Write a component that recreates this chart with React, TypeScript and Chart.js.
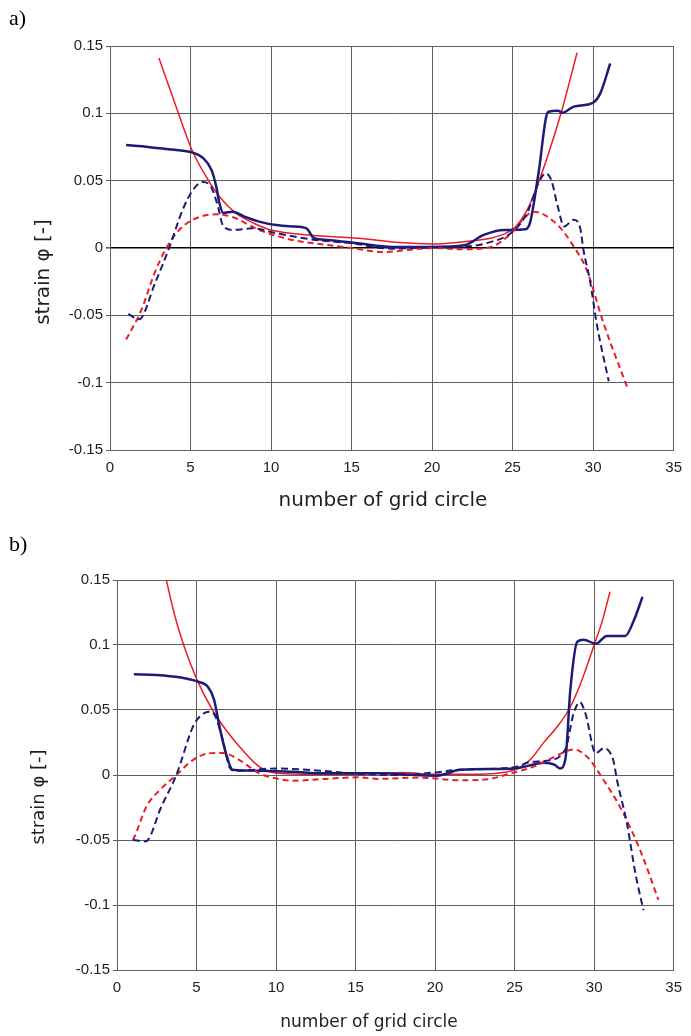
import React, { useEffect, useRef } from "react";
import { Chart, registerables } from "chart.js";

Chart.register(...registerables);

type P = [number, number];

// ---- axes ----
const xTickValues = [0, 5, 10, 15, 20, 25, 30, 35];
const yTickValues = [-0.15, -0.1, -0.05, 0, 0.05, 0.1, 0.15];

// ---- panel a) ----
const aBlueSolid: P[] = [
  [1.0, 0.0765], [2, 0.0755], [3.1, 0.074], [4, 0.073], [5.08, 0.071], [5.76, 0.067],
  [6.3, 0.058], [6.6, 0.0455], [6.8, 0.033], [7.03, 0.026], [7.6, 0.027], [8.4, 0.023],
  [9.26, 0.0196], [10.3, 0.017], [11.3, 0.016], [12.2, 0.0146], [12.65, 0.0075], [13.5, 0.006],
  [15.4, 0.0035], [17.5, 0.0008], [20, 0.0008], [22, 0.002], [23.2, 0.0097], [24.5, 0.0134],
  [25.8, 0.0139], [26.1, 0.0196], [26.6, 0.055], [27.2, 0.101], [27.8, 0.102], [28.1, 0.1005],
  [28.8, 0.105], [30.0, 0.108], [30.45, 0.115], [31.06, 0.137],
];
const aRedSolid: P[] = [
  [3.04, 0.141], [4.1, 0.105], [5.08, 0.073], [5.97, 0.053], [6.8, 0.038], [7.8, 0.026],
  [9, 0.018], [10, 0.0134], [12.5, 0.0095], [15.4, 0.0072], [18, 0.004], [20, 0.003],
  [22.2, 0.005], [23.7, 0.0075], [24.5, 0.0105], [25.2, 0.016], [25.8, 0.026], [26.3, 0.039],
  [27.2, 0.069], [28.1, 0.104], [29.0, 0.145],
];
const aBlueDashed: P[] = [
  [1.14, -0.049], [1.8, -0.053], [2.8, -0.026], [3.7, 0.001], [4.5, 0.028], [5.14, 0.043],
  [5.76, 0.049], [6.27, 0.0455], [6.7, 0.031], [7.0, 0.017], [7.6, 0.0134], [8.85, 0.0146],
  [10.3, 0.011], [12.75, 0.006], [15, 0.0035], [17.5, -0.0005], [20, 0.0005], [22, 0.001],
  [23.5, 0.004], [25, 0.012], [25.9, 0.026], [26.6, 0.048], [27.05, 0.0555], [27.4, 0.0505],
  [27.8, 0.031], [28.2, 0.016], [28.8, 0.021], [29.2, 0.0146], [29.4, -0.0015], [29.8, -0.024],
  [30.25, -0.058], [30.97, -0.099],
];
const aRedDashed: P[] = [
  [1.0, -0.068], [1.95, -0.046], [2.77, -0.0185], [3.5, 0], [4.3, 0.0134], [5.14, 0.021],
  [6.6, 0.025], [7.6, 0.023], [9.26, 0.0134], [11.3, 0.006], [13, 0.003], [15, 0],
  [17, -0.003], [18.5, -0.0015], [20, 0], [22, -0.001], [23.7, 0.001], [25, 0.012],
  [25.7, 0.022], [26.3, 0.027], [27.8, 0.017], [28.8, 0.001], [29.6, -0.0163], [30.65, -0.056],
  [32.1, -0.103],
];

// ---- panel b) ----
const bBlueSolid: P[] = [
  [1.06, 0.0775], [2.5, 0.077], [4, 0.075], [5.04, 0.072], [5.7, 0.068], [6.1, 0.058],
  [6.45, 0.037], [6.85, 0.0167], [7.27, 0.004], [8.94, 0.0033], [11, 0.0025], [13.1, 0.0013],
  [16.4, 0.0013], [20.1, -0.0005], [21.6, 0.004], [25, 0.005], [26.85, 0.0095], [27.5, 0.008],
  [27.85, 0.005], [28.2, 0.0128], [28.5, 0.065], [28.94, 0.1025], [29.35, 0.104], [30.1, 0.101],
  [30.8, 0.107], [31.96, 0.107], [32.5, 0.119], [33.04, 0.137],
];
const bRedSolid: P[] = [
  [2.9, 0.16], [3.1, 0.15], [3.6, 0.124], [4.19, 0.1], [5.04, 0.073], [6.0, 0.05],
  [6.85, 0.0346], [7.9, 0.019], [8.94, 0.0064], [10.1, 0.0013], [13, 0.0005], [16, 0.001],
  [18, 0.002], [20, 0.0005], [22, 0.0005], [23.5, 0.001], [25, 0.004], [26, 0.012],
  [26.8, 0.0245], [27.6, 0.036], [28.4, 0.05], [29.2, 0.072], [30, 0.1], [30.5, 0.118],
  [31.0, 0.141],
];
const bBlueDashed: P[] = [
  [1.0, -0.05], [1.8, -0.051], [2.8, -0.024], [3.73, 0], [4.77, 0.037], [5.2, 0.045],
  [5.8, 0.0487], [6.1, 0.047], [6.65, 0.027], [7.06, 0.0064], [7.4, 0.0033], [10, 0.005],
  [13.1, 0.003], [15, 0.001], [18, 0.0], [20, 0.002], [21.5, 0.004], [25, 0.006], [26, 0.01],
  [27, 0.011], [28.2, 0.02], [28.7, 0.047], [29.1, 0.056], [29.46, 0.047], [30.1, 0.0167],
  [30.6, 0.0205], [31.2, 0.0115], [31.44, -0.004], [32.06, -0.037], [32.6, -0.076], [33.1, -0.104],
];
const bRedDashed: P[] = [
  [1.0, -0.05], [1.12, -0.047], [1.86, -0.024], [2.7, -0.0115], [3.73, 0], [4.77, 0.0115],
  [5.8, 0.0167], [6.65, 0.017], [7.7, 0.0115], [8.94, 0.0013], [10, -0.0026], [11, -0.0044],
  [13.1, -0.003], [15.2, -0.0018], [16.4, -0.003], [19, -0.002], [21.6, -0.004], [23.3, -0.0033],
  [24.77, 0.0013], [26.2, 0.0064], [27.5, 0.014], [28.7, 0.0197], [29.56, 0.014], [30.6, -0.004],
  [31.6, -0.024], [32.9, -0.058], [34.04, -0.096],
];

const NAVY = "#1d1b78";
const RED = "#ec1c24";
const GRID = "#5e5e5e";
const TEXT = "#1e1e1e";

const textPlugin = {
  id: "textPlugin",
  afterDraw(chart: any, _args: any, opts: any) {
    const ctx = chart.ctx;
    for (const t of opts.items || []) {
      ctx.save();
      ctx.font = t.font;
      ctx.fillStyle = t.color || TEXT;
      ctx.textAlign = t.align || "center";
      ctx.textBaseline = t.baseline || "alphabetic";
      ctx.translate(t.x, t.y);
      if (t.rotate) ctx.rotate(t.rotate);
      ctx.fillText(t.text, 0, 0);
      ctx.restore();
    }
  },
};

const toXY = (pts: P[]) => pts.map(([x, y]) => ({ x, y }));
const fmt = (v: number) => {
  const r = Math.round(v * 100) / 100;
  return r === 0 ? "0" : String(r);
};

interface PanelSpec {
  width: number;
  height: number;
  left: number;
  right: number;
  top: number;
  bottom: number;
  zeroBlack: boolean;
  series: P[][];
  texts: any[];
}

function buildConfig(p: PanelSpec): any {
  const [bs, rs, bd, rd] = p.series;
  const datasets = [
    { label: "bd", data: toXY(bd), borderColor: NAVY, borderWidth: 2, borderDash: [7, 4] },
    { label: "rd", data: toXY(rd), borderColor: RED, borderWidth: 2, borderDash: [6, 4] },
    { label: "bs", data: toXY(bs), borderColor: NAVY, borderWidth: 2.5 },
    { label: "rs", data: toXY(rs), borderColor: RED, borderWidth: 1.5 },
  ].map((d) => ({ ...d, pointRadius: 0, fill: false, cubicInterpolationMode: "monotone" }));

  return {
    type: "line",
    data: { datasets },
    options: {
      animation: false,
      responsive: false,
      maintainAspectRatio: false,
      events: [],
      layout: { padding: { left: 0, right: p.width - p.right, top: p.top, bottom: 0 } },
      plugins: {
        legend: { display: false },
        tooltip: { enabled: false },
        textPlugin: { items: p.texts },
      },
      scales: {
        x: {
          type: "linear",
          min: 0,
          max: 35,
          afterBuildTicks: (s: any) => {
            s.ticks = xTickValues.map((v) => ({ value: v }));
          },
          afterFit: (s: any) => {
            s.height = p.height - p.bottom;
          },
          grid: { color: GRID, lineWidth: 1, drawTicks: false },
          border: { color: GRID, width: 1 },
          ticks: {
            font: { family: "Liberation Sans", size: 15 },
            color: TEXT,
            padding: 9,
            maxRotation: 0,
            autoSkip: false,
            callback: (v: number) => String(v),
          },
        },
        y: {
          type: "linear",
          min: -0.15,
          max: 0.15,
          afterBuildTicks: (s: any) => {
            s.ticks = yTickValues.map((v) => ({ value: v }));
          },
          afterFit: (s: any) => {
            s.width = p.left;
          },
          grid: {
            color: (c: any) =>
              p.zeroBlack && c.tick && Math.abs(c.tick.value) < 1e-9 ? "#000" : GRID,
            lineWidth: (c: any) =>
              p.zeroBlack && c.tick && Math.abs(c.tick.value) < 1e-9 ? 1.6 : 1,
            tickLength: 4,
            tickColor: GRID,
          },
          border: { color: GRID, width: 1 },
          ticks: {
            font: { family: "Liberation Sans", size: 15 },
            color: TEXT,
            padding: 3,
            autoSkip: false,
            callback: (v: number) => fmt(v),
          },
        },
      },
    },
    plugins: [textPlugin],
  };
}

const panelA: PanelSpec = {
  width: 691,
  height: 520,
  left: 110,
  right: 677,
  top: 46,
  bottom: 450,
  zeroBlack: true,
  series: [aBlueSolid, aRedSolid, aBlueDashed, aRedDashed],
  texts: [
    { text: "a)", x: 9, y: 25, font: '22px "Liberation Serif"', align: "left", color: "#000" },
    { text: "strain φ [-]", x: 44, y: 272, font: '20px "DejaVu Sans"', rotate: -Math.PI / 2, baseline: "middle" },
    { text: "number of grid circle", x: 383, y: 506, font: '20px "DejaVu Sans"' },
  ],
};

const panelB: PanelSpec = {
  width: 691,
  height: 516,
  left: 117,
  right: 677,
  top: 60,
  bottom: 450,
  zeroBlack: false,
  series: [bBlueSolid, bRedSolid, bBlueDashed, bRedDashed],
  texts: [
    { text: "b)", x: 9, y: 31, font: '22px "Liberation Serif"', align: "left", color: "#000" },
    { text: "strain φ [-]", x: 39, y: 277, font: '18px "DejaVu Sans"', rotate: -Math.PI / 2, baseline: "middle" },
    { text: "number of grid circle", x: 369, y: 507, font: '17px "DejaVu Sans"' },
  ],
};

function Panel({ spec, top }: { spec: PanelSpec; top: number }) {
  const ref = useRef<HTMLCanvasElement | null>(null);
  useEffect(() => {
    if (!ref.current) return;
    const chart = new Chart(ref.current, buildConfig(spec));
    return () => chart.destroy();
  }, [spec]);
  return (
    <div style={{ position: "absolute", left: 0, top, width: spec.width, height: spec.height }}>
      <canvas ref={ref} width={spec.width} height={spec.height} style={{ display: "block" }} />
    </div>
  );
}

export default function App() {
  return (
    <div style={{ position: "absolute", left: 0, top: 0, width: 691, height: 1036, background: "#fff" }}>
      <Panel spec={panelA} top={0} />
      <Panel spec={panelB} top={520} />
    </div>
  );
}
